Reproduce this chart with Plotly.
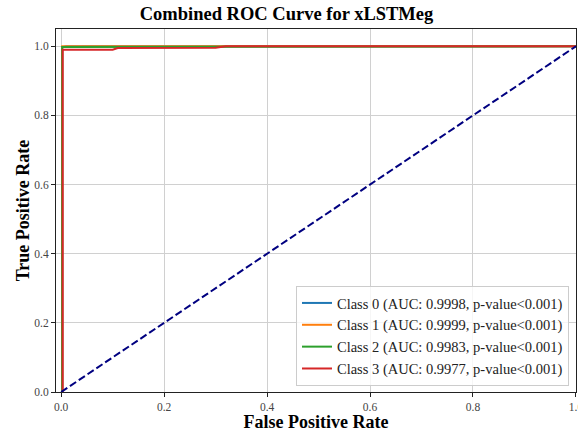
import plotly.graph_objects as go

# ROC data
fpr_c0 = [0.0, 0.002, 0.002, 0.01, 1.0]
tpr_c0 = [0.0, 0.0, 0.997, 1.0, 1.0]
fpr_c1 = [0.0, 0.002, 0.002, 1.0]
tpr_c1 = [0.0, 0.0, 1.0, 1.0]
fpr_c2 = [0.0, 0.002, 0.002, 0.1, 0.11, 1.0]
tpr_c2 = [0.0, 0.0, 0.998, 0.998, 1.0, 1.0]
fpr_c3 = [0.0, 0.003, 0.003, 0.1, 0.11, 0.3, 0.32, 1.0]
tpr_c3 = [0.0, 0.0, 0.99, 0.99, 0.995, 0.996, 1.0, 1.0]

labels = [
    "Class 0 (AUC: 0.9998, p-value<0.001)",
    "Class 1 (AUC: 0.9999, p-value<0.001)",
    "Class 2 (AUC: 0.9983, p-value<0.001)",
    "Class 3 (AUC: 0.9977, p-value<0.001)",
]
colors = ["#1f77b4", "#ff7f0e", "#2ca02c", "#d62728"]
diag_x = [0.0, 1.0]
diag_y = [0.0, 1.0]

xs = [fpr_c0, fpr_c1, fpr_c2, fpr_c3]
ys = [tpr_c0, tpr_c1, tpr_c2, tpr_c3]

fig = go.Figure()
for x, y, lab, c in zip(xs, ys, labels, colors):
    fig.add_trace(go.Scatter(x=x, y=y, mode="lines", name=lab,
                             line=dict(color=c, width=2)))
fig.add_trace(go.Scatter(x=diag_x, y=diag_y, mode="lines", showlegend=False,
                         line=dict(color="navy", width=2, dash="7.4px,3.2px")))

font = "Liberation Serif, Times New Roman, serif"
axis_common = dict(
    showgrid=True, gridcolor="#d0d0d0", gridwidth=1,
    showline=True, linecolor="#222", linewidth=1, mirror=True,
    ticks="outside", ticklen=4, tickcolor="#222", tickwidth=1,
    tickfont=dict(family=font, size=11.5, color="#444"),
    zeroline=False, tickformat=".1f", dtick=0.2,
)
fig.update_layout(
    width=578, height=432,
    margin=dict(l=56, r=2, t=29, b=40),
    paper_bgcolor="white", plot_bgcolor="white",
    title=dict(text="<b>Combined ROC Curve for xLSTMeg</b>",
               font=dict(family=font, size=18.5, color="black"),
               x=286.5 / 578, xanchor="center", y=1 - 14 / 432, yanchor="middle"),
    xaxis=dict(range=[-0.01, 1.0001], ticklabeloverflow="allow", automargin=False,
               **axis_common,
               title=dict(text="<b>False Positive Rate</b>",
                          font=dict(family=font, size=18, color="black"))),
    yaxis=dict(range=[0.0, 1.05], **axis_common,
               title=dict(text="<b>True Positive Rate</b>",
                          font=dict(family=font, size=18, color="black"), standoff=0)),
    legend=dict(x=0.9865, y=0.0165, xanchor="right", yanchor="bottom",
                bgcolor="rgba(255,255,255,0.8)", bordercolor="#cccccc", borderwidth=1,
                font=dict(family=font, size=14.5, color="#222"),
                tracegroupgap=0, itemwidth=30),
    showlegend=True,
)
fig.write_html("out.html")
